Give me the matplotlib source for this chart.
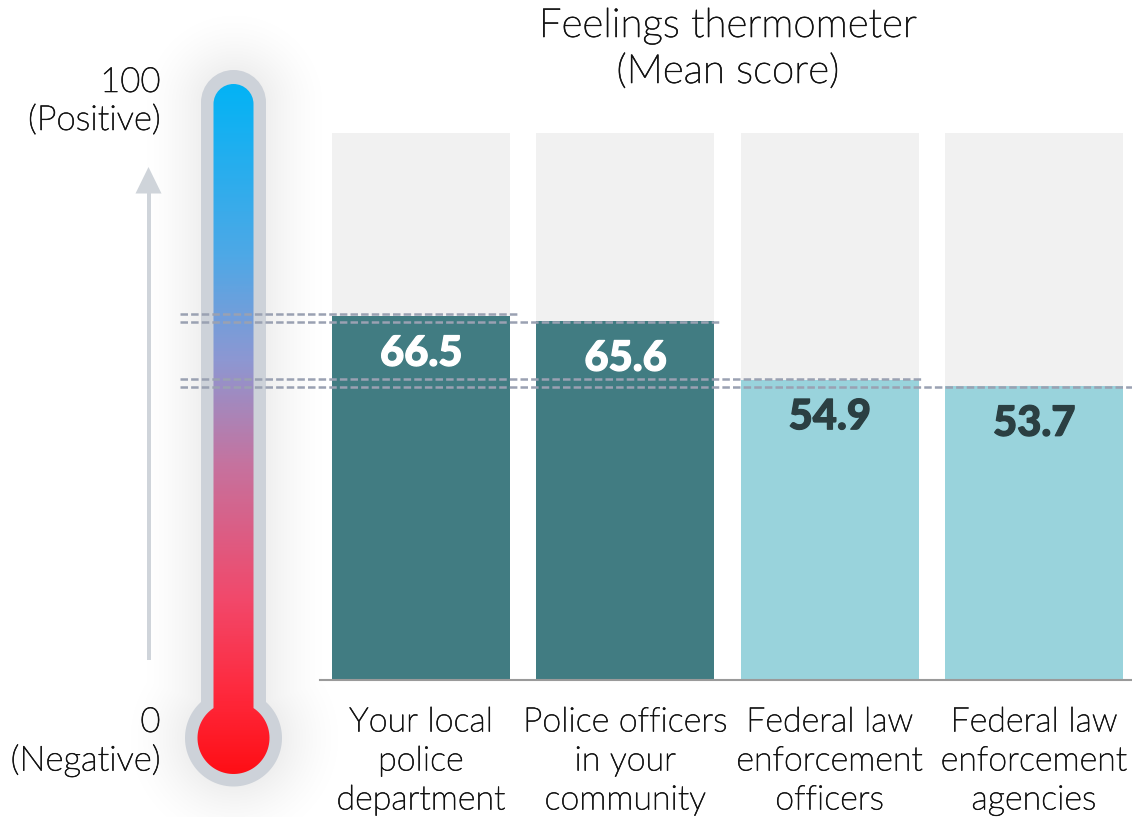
import numpy as np
import matplotlib
matplotlib.use("Agg")
import matplotlib.pyplot as plt
import matplotlib.patheffects as pe
from matplotlib import font_manager as fm
from matplotlib.patches import Rectangle, PathPatch, Polygon
from matplotlib.path import Path
from matplotlib.colors import LinearSegmentedColormap
from matplotlib.transforms import blended_transform_factory

categories = ["Your local\npolice\ndepartment", "Police officers\nin your\ncommunity",
              "Federal law\nenforcement\nofficers", "Federal law\nenforcement\nagencies"]
scores = [66.5, 65.6, 54.9, 53.7]
labels = ["66.5", "65.6", "54.9", "53.7"]
guide_levels = [67.0, 65.5, 55.0, 53.5]
guide_ends = [519, 719, 923, 1132]
colors = ["#417c82", "#417c82", "#99d3dc", "#99d3dc"]
text_colors = ["white", "white", "#2b3f42", "#2b3f42"]
max_score = 100

W, H = 1132, 817
plt.rcParams["font.family"] = ["Lato", "DejaVu Sans"]

def light_font():
    cands = [f for f in fm.fontManager.ttflist
             if f.name.startswith("Lato") and "light" in f.fname.lower()
             and "hair" not in f.fname.lower() and "italic" not in f.fname.lower()]
    return cands[0].fname if cands else None
lf = light_font()
def fp(size):
    return fm.FontProperties(fname=lf, size=size) if lf else fm.FontProperties(family="Lato", size=size)
thicken = [pe.withStroke(linewidth=0.4, foreground="#111111")]

fig = plt.figure(figsize=(W / 100, H / 100), dpi=100, facecolor="white")

ov = fig.add_axes([0, 0, 1, 1], zorder=1)
ov.set_xlim(0, W); ov.set_ylim(H, 0); ov.axis("off")

ax = fig.add_axes([320 / W, (H - 680) / H, (W - 320) / W, (680 - 133) / H], zorder=2)
ax.patch.set_alpha(0)
pitch = 204.33
ax.set_xlim((320 - 421) / pitch, (W - 421) / pitch)
ax.set_ylim(0, max_score)
x = np.arange(len(categories))
bw = 178 / pitch
ax.bar(x, [max_score] * 4, width=bw, color="#f1f1f1", zorder=1)
ax.bar(x, scores, width=bw, color=colors, zorder=2)
for s in ["top", "left", "right"]:
    ax.spines[s].set_visible(False)
ax.spines["bottom"].set_color("#9a9a9a")
ax.spines["bottom"].set_linewidth(1.5)
ax.set_yticks([])
ax.set_xticks([])
for xi, c in zip(x, categories):
    for j, line in enumerate(c.split("\n")):
        ax.annotate(line, (xi, 0), xytext=(0, -(42.5 + 39 * j) * 0.72), textcoords="offset points",
                    ha="center", va="center", fontproperties=fp(24.5), color="#111111",
                    path_effects=thicken)
for xi, s, l, tc in zip(x, scores, labels, text_colors):
    ax.annotate(l, (xi, s), xytext=(0, -37.5 * 0.72), textcoords="offset points",
                ha="center", va="center", fontsize=30, fontweight="black", color=tc,
                path_effects=[pe.withStroke(linewidth=0.9, foreground=tc)])

top = fig.add_axes([0, 0, 1, 1], zorder=3)
top.set_xlim(0, W); top.set_ylim(H, 0); top.axis("off")
tr = blended_transform_factory(top.transData, ax.transData)
for lv, xe in zip(guide_levels, guide_ends):
    top.plot([180, xe], [lv, lv], transform=tr, color="#9aa1b2", lw=1.8,
             dashes=(3.0, 1.25), dash_capstyle="butt", zorder=5)

cx, by = 233.5, 738.0
def shape(half, top_y, r_b):
    k = 0.5523 * half
    j = np.sqrt(max(r_b ** 2 - half ** 2, 0))
    verts = [(cx - half, by - j), (cx - half, top_y + half),
             (cx - half, top_y + half - k), (cx - k, top_y), (cx, top_y),
             (cx + k, top_y), (cx + half, top_y + half - k), (cx + half, top_y + half),
             (cx + half, by - j)]
    codes = [Path.MOVETO, Path.LINETO, Path.CURVE4, Path.CURVE4, Path.CURVE4,
             Path.CURVE4, Path.CURVE4, Path.CURVE4, Path.LINETO]
    a0 = np.arctan2(-j, half)
    ang = np.linspace(a0, 2 * np.pi + np.arctan2(-j, -half), 80)
    for a in ang:
        verts.append((cx + r_b * np.cos(a), by + r_b * np.sin(a)))
        codes.append(Path.LINETO)
    verts.append(verts[0]); codes.append(Path.CLOSEPOLY)
    return Path(verts, codes)

yy, xx = np.mgrid[0:H:2, 0:340:2]
dy_top = np.where(yy < 102.5, np.hypot(xx - cx, yy - 102.5) - 32.5, np.abs(xx - cx) - 32.5)
bulb_d = np.hypot(xx - cx, yy - by) - 48.5
d = np.minimum(np.where(yy > by, 1e3, dy_top), bulb_d)
alpha = 0.065 * np.clip(1 - d / 70, 0, 1) ** 1.8
rgba = np.zeros(alpha.shape + (4,))
rgba[..., 3] = alpha
ov.imshow(rgba, extent=(0, 340, H, 0), aspect="auto", zorder=1, interpolation="bilinear")

ov.add_patch(PathPatch(shape(32.5, 70, 48.5), fc="#cdd2d9", ec="none", zorder=2))
inner = PathPatch(shape(20, 84, 36), fc="none", ec="none", zorder=3)
ov.add_patch(inner)
cmap = LinearSegmentedColormap.from_list("th", [(0, "#03b3f5"), (0.25, "#4fa8e6"), (0.4, "#8d97d2"),
                                                (0.55, "#c5739f"), (0.75, "#f2486a"), (0.88, "#fe2a3e"), (1, "#ff0f16")])
g = np.linspace(0, 1, 700).reshape(-1, 1)
im = ov.imshow(g, cmap=cmap, extent=(190, 280, 774, 84), aspect="auto", zorder=3)
im.set_clip_path(inner)
ov.set_xlim(0, W); ov.set_ylim(H, 0)

ov.add_patch(Rectangle((146.5, 192), 4, 468, fc="#cfd4da", ec="none", zorder=2))
ov.add_patch(Polygon([(148.5, 167), (135.5, 193.5), (161.5, 193.5)], fc="#cfd4da", ec="none", zorder=2))

tk = dict(ha="right", va="center", fontproperties=fp(25), color="#111111", zorder=6, path_effects=thicken)
ov.text(160.5, 82, "100", **tk)
ov.text(160.5, 120, "(Positive)", **tk)
ov.text(160.5, 722, "0", **tk)
ov.text(160.5, 760, "(Negative)", **tk)
tt = dict(ha="center", va="center", fontproperties=fp(29), color="#111111", zorder=6, path_effects=thicken)
ov.text(728, 26, "Feelings thermometer", **tt)
ov.text(728, 72, "(Mean score)", **tt)

fig.savefig("out.png", dpi=100)
